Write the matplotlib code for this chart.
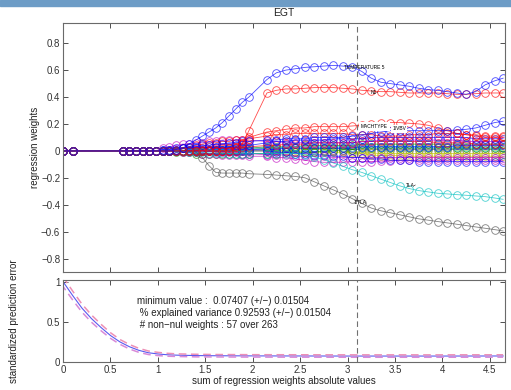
import numpy as np
import matplotlib.pyplot as plt
from matplotlib.patches import Rectangle

plt.rcParams['font.family'] = ['Liberation Sans', 'DejaVu Sans']

# lasso path steps (sum of |w|) -- gap between 1.96 and 2.15 as in the original run
path_x = [0.00, 0.11, 0.63, 0.70, 0.77, 0.84, 0.91, 0.98, 1.05, 1.12, 1.19, 1.26,
          1.33, 1.40, 1.47, 1.54, 1.61, 1.68, 1.75, 1.82, 1.89, 1.96, 2.15, 2.25,
          2.35, 2.45, 2.55, 2.65, 2.75, 2.85, 2.95, 3.05, 3.15, 3.25, 3.35, 3.45,
          3.55, 3.65, 3.75, 3.85, 3.95, 4.05, 4.15, 4.25, 4.35, 4.45, 4.55, 4.64]

# weights from step 1.05 onward (earlier steps are all zero)
w_temperature5 = [0, 0, 0.01, 0.02, 0.05, 0.08, 0.11, 0.14, 0.17, 0.21,
                  0.26, 0.31, 0.36, 0.40, 0.53, 0.58, 0.60, 0.61, 0.62, 0.625,
                  0.63, 0.635, 0.63, 0.625, 0.59, 0.54, 0.51, 0.50, 0.49, 0.48,
                  0.465, 0.455, 0.45, 0.44, 0.43, 0.42, 0.44, 0.49, 0.52, 0.54]
w_n1sq = [0, 0, 0, 0, 0, 0, 0, 0, 0, 0,
          0, 0, 0.05, 0.15, 0.43, 0.45, 0.46, 0.46, 0.465, 0.47,
          0.47, 0.47, 0.465, 0.46, 0.45, 0.445, 0.44, 0.44, 0.435, 0.43,
          0.43, 0.43, 0.43, 0.425, 0.42, 0.42, 0.425, 0.43, 0.43, 0.43]
w_inv_tla = [0, 0, 0, 0, 0, -0.01, -0.05, -0.11, -0.16, -0.165,
             -0.165, -0.165, -0.165, -0.17, -0.175, -0.18, -0.185, -0.19, -0.20, -0.23,
             -0.26, -0.29, -0.32, -0.355, -0.39, -0.425, -0.445, -0.46, -0.475, -0.49,
             -0.505, -0.515, -0.525, -0.535, -0.545, -0.555, -0.565, -0.575, -0.585, -0.595]
w_tlasq = [0, 0, 0, 0, -0.01, -0.01, -0.01, -0.015, -0.015, -0.015,
           -0.02, -0.02, -0.02, -0.02, -0.02, -0.02, -0.02, -0.02, -0.03, -0.045,
           -0.065, -0.09, -0.115, -0.14, -0.16, -0.185, -0.21, -0.235, -0.26, -0.28,
           -0.295, -0.305, -0.315, -0.32, -0.325, -0.33, -0.335, -0.34, -0.35, -0.36]
w_inv_vbv = [0.01, 0.01, 0.02, 0.02, 0.03, 0.03, 0.04, 0.04, 0.05, 0.05,
             0.06, 0.06, 0.07, 0.07, 0.08, 0.08, 0.09, 0.09, 0.09, 0.10,
             0.10, 0.10, 0.10, 0.11, 0.12, 0.13, 0.14, 0.15, 0.15, 0.15,
             0.15, 0.15, 0.15, 0.15, 0.155, 0.16, 0.17, 0.19, 0.21, 0.22]

# the unlabeled bundle
w_red_a = [0, 0, 0, 0, 0, 0, 0, 0, 0, 0,
           0, 0.03, 0.06, 0.10, 0.14, 0.15, 0.16, 0.17, 0.17, 0.18,
           0.18, 0.18, 0.18, 0.185, 0.19, 0.20, 0.21, 0.21, 0.21, 0.205,
           0.20, 0.19, 0.17, 0.15, 0.13, 0.12, 0.12, 0.11, 0.11, 0.11]
w_red_b = [0, 0, 0.01, 0.02, 0.03, 0.04, 0.05, 0.06, 0.06, 0.07,
           0.07, 0.08, 0.08, 0.09, 0.11, 0.12, 0.12, 0.13, 0.13, 0.13,
           0.13, 0.13, 0.13, 0.12, 0.12, 0.12, 0.11, 0.11, 0.11, 0.12,
           0.12, 0.12, 0.13, 0.13, 0.13, 0.12, 0.11, 0.10, 0.10, 0.10]
w_red_c = [0, 0, 0, 0, 0, 0, 0.01, 0.01, 0.02, 0.02,
           0.02, 0.03, 0.03, 0.03, 0.04, 0.04, 0.05, 0.05, 0.05, 0.06,
           0.06, 0.06, 0.06, 0.06, 0.07, 0.07, 0.07, 0.07, 0.07, 0.07,
           0.07, 0.07, 0.06, 0.06, 0.06, 0.06, 0.05, 0.05, 0.05, 0.05]
w_blue_a = [0.01, 0.01, 0.01, 0.02, 0.02, 0.02, 0.02, 0.03, 0.03, 0.03,
            0.03, 0.04, 0.04, 0.04, 0.06, 0.07, 0.07, 0.08, 0.08, 0.08,
            0.08, 0.09, 0.09, 0.09, 0.09, 0.10, 0.10, 0.10, 0.10, 0.10,
            0.10, 0.10, 0.10, 0.10, 0.10, 0.10, 0.09, 0.09, 0.09, 0.09]
w_blue_b = [0, 0, 0, 0, 0.01, 0.01, 0.01, 0.01, 0.01, 0.01,
            0.01, 0.01, 0.01, 0.01, 0.01, 0.01, 0.02, 0.02, 0.02, 0.02,
            0.02, 0.02, 0.02, 0.02, 0.03, 0.03, 0.03, 0.03, 0.03, 0.03,
            0.03, 0.03, 0.03, 0.03, 0.04, 0.04, 0.04, 0.04, 0.04, 0.04]
w_blue_c = [0, 0, 0, 0, 0, 0, 0, 0, 0, 0,
            0, 0, 0, 0, 0, -0.01, -0.01, -0.02, -0.02, -0.03,
            -0.03, -0.04, -0.04, -0.05, -0.05, -0.06, -0.06, -0.07, -0.07, -0.07,
            -0.08, -0.08, -0.08, -0.08, -0.08, -0.08, -0.08, -0.08, -0.08, -0.08]
w_mag_a = [0.02, 0.03, 0.04, 0.05, 0.05, 0.06, 0.06, 0.07, 0.07, 0.08,
           0.08, 0.08, 0.08, 0.08, 0.07, 0.07, 0.06, 0.06, 0.06, 0.06,
           0.06, 0.06, 0.06, 0.06, 0.07, 0.07, 0.08, 0.08, 0.08, 0.08,
           0.08, 0.08, 0.08, 0.08, 0.08, 0.07, 0.07, 0.07, 0.07, 0.07]
w_mag_b = [0, 0, 0, -0.01, -0.01, -0.01, -0.02, -0.02, -0.02, -0.03,
           -0.03, -0.03, -0.03, -0.04, -0.04, -0.05, -0.05, -0.06, -0.07, -0.08,
           -0.085, -0.085, -0.085, -0.08, -0.08, -0.08, -0.075, -0.075, -0.07, -0.07,
           -0.07, -0.07, -0.07, -0.07, -0.065, -0.065, -0.065, -0.065, -0.07, -0.07]
w_mag_c = [0, 0, 0, 0, 0, 0, 0, 0, -0.01, -0.01,
           -0.01, -0.01, -0.02, -0.02, -0.03, -0.03, -0.03, -0.04, -0.04, -0.04,
           -0.04, -0.05, -0.05, -0.05, -0.05, -0.05, -0.05, -0.05, -0.05, -0.05,
           -0.05, -0.05, -0.05, -0.05, -0.05, -0.05, -0.05, -0.05, -0.05, -0.05]
w_green_a = [0, 0, -0.01, -0.01, -0.01, -0.02, -0.02, -0.02, -0.02, -0.02,
             -0.02, -0.02, -0.02, -0.02, -0.02, -0.02, -0.01, -0.01, -0.01, -0.01,
             0.0, 0.0, 0.01, 0.01, 0.02, 0.02, 0.02, 0.02, 0.02, 0.02,
             0.02, 0.02, 0.02, 0.02, 0.02, 0.02, 0.02, 0.02, 0.02, 0.02]
w_green_b = [0, 0, 0, 0, 0, 0, 0.01, 0.01, 0.01, 0.01,
             0.02, 0.02, 0.02, 0.02, 0.03, 0.03, 0.03, 0.03, 0.04, 0.04,
             0.04, 0.04, 0.04, 0.04, 0.05, 0.05, 0.05, 0.05, 0.05, 0.05,
             0.05, 0.05, 0.05, 0.05, 0.05, 0.05, 0.05, 0.05, 0.05, 0.05]
w_cyan_a = [0, 0, 0, 0, 0.01, 0.01, 0.01, 0.01, 0.01, 0.01,
            0.01, 0.01, 0.02, 0.02, 0.02, 0.02, 0.03, 0.03, 0.03, 0.03,
            0.03, 0.03, 0.03, 0.03, 0.03, 0.03, 0.03, 0.03, 0.03, 0.03,
            0.03, 0.03, 0.03, 0.03, 0.03, 0.03, 0.03, 0.03, 0.03, 0.03]
w_olive_a = [0, 0, 0, 0, 0, 0, 0, 0, 0, 0,
             0, 0, 0, 0, 0, 0, 0, -0.005, -0.01, -0.01,
             -0.01, -0.01, -0.01, -0.015, -0.015, -0.015, -0.02, -0.02, -0.02, -0.02,
             -0.02, -0.02, -0.02, -0.02, -0.02, -0.02, -0.02, -0.02, -0.02, -0.02]
w_olive_b = [0, 0, 0, 0, 0, 0, 0, 0, 0, 0,
             0, 0, 0, 0, 0, 0, 0, 0.005, 0.01, 0.01,
             0.01, 0.005, 0, -0.01, -0.02, -0.03, -0.035, -0.035, -0.035, -0.04,
             -0.04, -0.04, -0.04, -0.04, -0.04, -0.04, -0.04, -0.04, -0.04, -0.04]
w_gray_b = [0, 0, 0, 0, 0, 0, 0, 0, 0, 0,
            0, 0, 0.01, 0.01, 0.02, 0.02, 0.02, 0.02, 0.02, 0.02,
            0.02, 0.02, 0.02, 0.01, 0.01, 0.01, 0.01, 0.01, 0.01, 0.01,
            0.01, 0.01, 0.01, 0.01, 0.01, 0.01, 0.01, 0.01, 0.01, 0.01]

# cross-validated prediction error
err_x = [0, 0.1, 0.2, 0.3, 0.4, 0.5, 0.6, 0.7, 0.8, 0.9, 1.0, 1.1, 1.2, 1.4, 1.6,
         2.0, 2.5, 3.0, 3.5, 4.0, 4.64]
err_mean = [1.0, 0.83, 0.67, 0.54, 0.43, 0.33, 0.25, 0.19, 0.145, 0.115, 0.10, 0.09,
            0.085, 0.08, 0.078, 0.076, 0.075, 0.074, 0.074, 0.074, 0.075]
err_std = [0.06, 0.055, 0.05, 0.045, 0.04, 0.035, 0.03, 0.028, 0.025, 0.022, 0.02,
           0.018, 0.016, 0.016, 0.015, 0.015, 0.015, 0.015, 0.015, 0.015, 0.015]

lambda_sel = 3.1

# matlab's old default colour order
BLUE, GREEN, RED = (0, 0, 1), (0, 0.5, 0), (1, 0, 0)
CYAN, MAG, OLIVE, GRAY = (0, 0.75, 0.75), (0.75, 0, 0.75), (0.75, 0.75, 0), (0.3, 0.3, 0.3)

curves = [  # bundle first, labelled ones on top
    (w_gray_b, GRAY), (w_olive_a, OLIVE), (w_olive_b, OLIVE), (w_green_a, GREEN),
    (w_green_b, GREEN), (w_cyan_a, CYAN), (w_mag_c, MAG), (w_mag_b, MAG),
    (w_blue_c, BLUE), (w_blue_b, BLUE), (w_red_c, RED), (w_mag_a, MAG),
    (w_blue_a, BLUE), (w_red_b, RED), (w_red_a, RED), (w_inv_vbv, BLUE),
    (w_tlasq, CYAN), (w_inv_tla, GRAY), (w_n1sq, RED), (w_temperature5, BLUE),
]

x = np.array(path_x)
fig = plt.figure(figsize=(5.11, 3.90), dpi=100)
fig.patches.append(Rectangle((0, 1 - 6 / 390), 1, 6 / 390, transform=fig.transFigure,
                             color='#6d9cc6', zorder=0))

ax = fig.add_axes([63 / 511, 1 - 272 / 390, 442 / 511, 249 / 390])
for w, c in curves:
    y = np.r_[np.zeros(len(x) - len(w)), w]
    ax.plot(x, y, '-', color=c, lw=0.6, alpha=0.7)
    ax.plot(x, y, 'o', mfc='none', mec=c, ms=5.5, mew=0.6, alpha=0.7)

ax.axvline(lambda_sel, color='#707070', ls=(0, (5, 3)), lw=0.8)
lab = dict(fontsize=3.5, color='black', zorder=5)
ax.text(2.96, 0.62, 'TEMPERATURE 5', va='center', **lab)
ax.text(3.24, 0.435, 'N1²', va='center', **lab)
ax.text(3.14, 0.18, 'MACHTYPE', va='center',
        bbox=dict(facecolor='white', edgecolor='none', pad=1.5), **lab)
ax.text(3.47, 0.165, '1/VBV', va='center',
        bbox=dict(facecolor='white', edgecolor='none', pad=1.0), **lab)
ax.text(3.62, -0.26, 'TLA²', va='center', **lab)
ax.text(3.06, -0.38, '1/TLA', va='center', **lab)

ax.set_xlim(0, 4.66)
ax.set_ylim(-0.9, 0.95)
ax.set_xticks(np.arange(0, 4.6, 0.5))
ax.set_xticklabels([])
ax.set_yticks([-0.8, -0.6, -0.4, -0.2, 0, 0.2, 0.4, 0.6, 0.8])
ax.set_yticklabels(['−0.8', '−0.6', '−0.4', '−0.2', '0', '0.2', '0.4', '0.6', '0.8'])
ax.set_ylabel('regression weights', fontsize=7, color='#222222', labelpad=1)
ax.set_title('EGT', fontsize=7.5, color='#222222', pad=5)

ax2 = fig.add_axes([63 / 511, 1 - 362 / 390, 442 / 511, 82 / 390])
m = np.array(err_mean)
s = np.array(err_std)
ax2.plot(err_x, m, color='#5a5af0', lw=0.8)
ax2.plot(err_x, m + s, color='#ee8fb5', lw=1.1, ls=(0, (5, 3)))
ax2.plot(err_x, m - s, color='#d98ad8', lw=1.1, ls=(2, (5, 3)))
ax2.axvline(lambda_sel, color='#707070', ls=(0, (5, 3)), lw=0.8)
ax2.text(0.78, 0.80, 'minimum value :  0.07407 (+/−) 0.01504\n'
         ' % explained variance 0.92593 (+/−) 0.01504\n'
         ' # non−nul weights : 57 over 263',
         transform=ax2.get_xaxis_transform(), fontsize=7, color='#222222',
         va='top', linespacing=1.25)
ax2.set_xlim(0, 4.66)
ax2.set_ylim(0, 1.02)
ax2.set_xticks(np.arange(0, 4.6, 0.5))
ax2.set_xticklabels(['0', '0.5', '1', '1.5', '2', '2.5', '3', '3.5', '4', '4.5'])
ax2.set_yticks([0, 0.5, 1])
ax2.set_yticklabels(['0', '0.5', '1'])
ax2.set_xlabel('sum of regression weights absolute values', fontsize=7,
               color='#222222', labelpad=1)
ax2.set_ylabel('standardized prediction error', fontsize=7, color='#222222', labelpad=20)

for a in (ax, ax2):
    a.tick_params(direction='in', top=True, right=True, length=3.5, width=0.6,
                  labelsize=7, colors='#333333', pad=2)
    for sp in a.spines.values():
        sp.set_color('#6a6a6a')
        sp.set_linewidth(0.8)

fig.savefig('out.png', dpi=100)
